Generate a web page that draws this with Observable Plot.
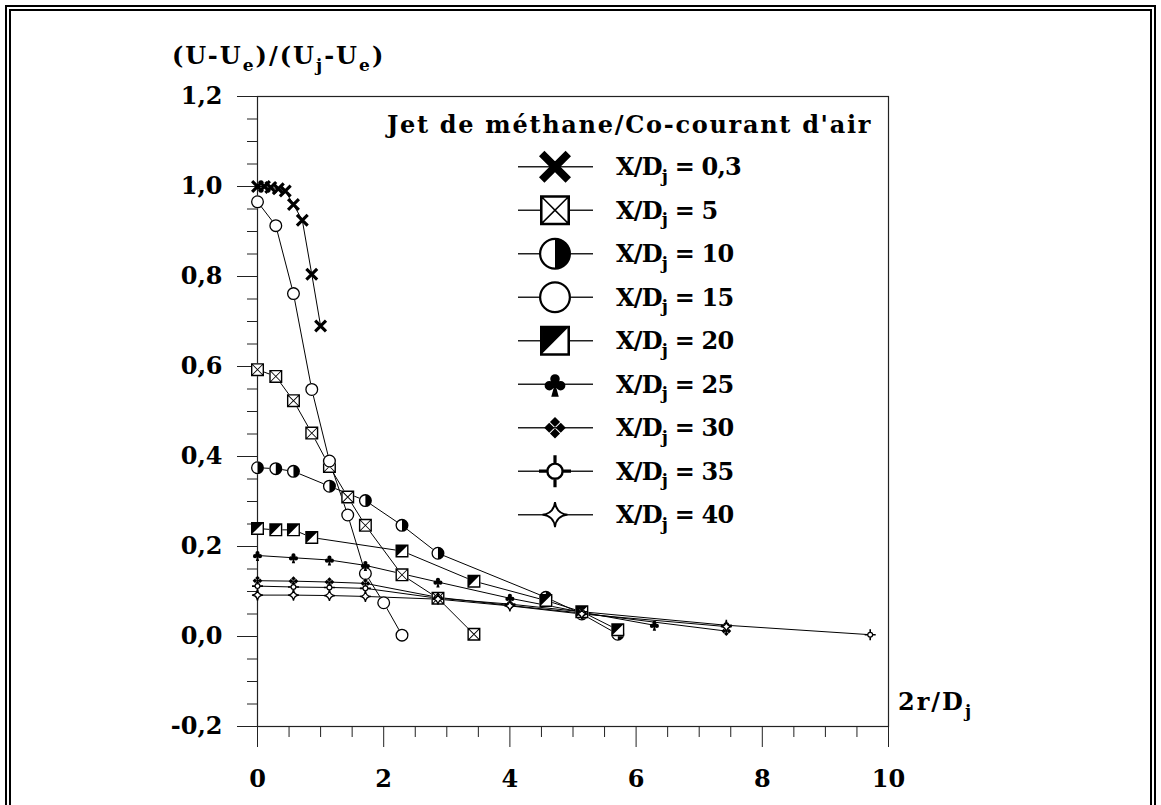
<!DOCTYPE html>
<html><head><meta charset="utf-8">
<script src="https://cdn.jsdelivr.net/npm/d3@7"></script>
<script src="https://cdn.jsdelivr.net/npm/@observablehq/plot@0.6"></script>
<style>
html,body{margin:0;padding:0;background:#fff;overflow:hidden}
#wrap{position:relative;width:1161px;height:805px;overflow:hidden;font-family:"DejaVu Serif",serif;font-weight:bold;color:#000}
#frame{position:absolute;left:5px;top:5px;width:1151px;height:830px;box-sizing:border-box;border:6px double #000}
#plot{position:absolute;left:0;top:0}
#legsvg{position:absolute;left:0;top:0;pointer-events:none}
.lbl{position:absolute;font-size:24px;line-height:1;white-space:nowrap}
.lbl sub{font-size:17px;vertical-align:baseline;position:relative;top:0.4em}
</style></head><body><div id="wrap"><div id="frame"></div><div id="plot"></div></div>
<script>
// ---------------- data ----------------
const seriesNames = ["0,3", "5", "10", "15", "20", "25", "30", "35", "40"];

const x_03 = [0, 0.11, 0.21, 0.33, 0.44, 0.57, 0.71, 0.86, 1.0];
const y_03 = [1.0, 1.0, 0.998, 0.995, 0.99, 0.96, 0.925, 0.805, 0.69];

const x_05 = [0, 0.29, 0.57, 0.86, 1.14, 1.43, 1.71, 2.29, 2.86, 3.43];
const y_05 = [0.593, 0.578, 0.524, 0.452, 0.378, 0.31, 0.247, 0.137, 0.085, 0.005];

const x_10 = [0, 0.29, 0.57, 1.14, 1.71, 2.29, 2.86, 4.57, 5.14, 5.71];
const y_10 = [0.375, 0.373, 0.367, 0.334, 0.302, 0.247, 0.185, 0.087, 0.05, 0.005];

const x_15 = [0, 0.29, 0.57, 0.86, 1.14, 1.43, 1.71, 2.0, 2.29];
const y_15 = [0.966, 0.913, 0.762, 0.549, 0.39, 0.27, 0.14, 0.075, 0.003];

const x_20 = [0, 0.29, 0.57, 0.86, 2.29, 3.43, 4.57, 5.14, 5.71];
const y_20 = [0.24, 0.237, 0.237, 0.22, 0.19, 0.123, 0.08, 0.055, 0.015];

const x_25 = [0, 0.57, 1.14, 1.71, 2.86, 4.0, 5.14, 6.29];
const y_25 = [0.18, 0.175, 0.17, 0.158, 0.121, 0.085, 0.054, 0.025];

const x_30 = [0, 0.57, 1.14, 1.71, 2.86, 4.0, 5.14, 7.43];
const y_30 = [0.124, 0.123, 0.121, 0.118, 0.087, 0.069, 0.052, 0.012];

const x_35 = [0, 0.57, 1.14, 1.71, 2.86, 4.0, 5.14, 7.43, 9.71];
const y_35 = [0.112, 0.11, 0.109, 0.107, 0.085, 0.072, 0.055, 0.025, 0.004];

const x_40 = [0, 0.57, 1.14, 1.71, 2.86, 4.0, 5.14, 7.43];
const y_40 = [0.092, 0.092, 0.091, 0.089, 0.083, 0.068, 0.05, 0.022];

const xTicks = [0, 2, 4, 6, 8, 10];
const xMinorTicks = [0.5, 1, 1.5, 2.5, 3, 3.5, 4.5, 5, 5.5, 6.5, 7, 7.5, 8.5, 9, 9.5];
const yTicks = [-0.2, 0, 0.2, 0.4, 0.6, 0.8, 1.0, 1.2];
const yMinorTicks = [-0.15, -0.1, -0.05, 0.05, 0.1, 0.15, 0.25, 0.3, 0.35, 0.45, 0.5, 0.55, 0.65, 0.7, 0.75, 0.85, 0.9, 0.95, 1.05, 1.1, 1.15];
const yTickLabels = ["-0,2", "0,0", "0,2", "0,4", "0,6", "0,8", "1,0", "1,2"];
const xTickLabels = ["0", "2", "4", "6", "8", "10"];

const legendTitle = "Jet de méthane/Co-courant d'air";
const yTitle = ["(U-U", "e", ")/(U", "j", "-U", "e", ")"];
const xTitle = ["2r/D", "j"];

// ---------------- symbols ----------------
const TAU = Math.PI * 2;
function poly(p, pts) { p.moveTo(pts[0][0], pts[0][1]); for (let i = 1; i < pts.length; i++) p.lineTo(pts[i][0], pts[i][1]); p.closePath(); }
function rot(pts, a) { const c = Math.cos(a), s = Math.sin(a); return pts.map(([x, y]) => [x * c - y * s, x * s + y * c]); }
function rrect(p, hl, ht, a) { poly(p, rot([[-hl, -ht], [hl, -ht], [hl, ht], [-hl, ht]], a)); }
function sq(p, a, rev) { poly(p, rev ? [[-a, -a], [-a, a], [a, a], [a, -a]] : [[-a, -a], [a, -a], [a, a], [-a, a]]); }
function circ(p, cx, cy, r, rev) { p.moveTo(cx + r, cy); p.arc(cx, cy, r, 0, TAU, !!rev); p.closePath(); }

const shapes = {
  cross(p, R) { const ht = 0.24 * R, hl = 1.414 * R - ht; rrect(p, hl, ht, Math.PI / 4); rrect(p, hl, ht, -Math.PI / 4); },
  boxX(p, R) { const w = Math.max(0.17 * R, 1.4); sq(p, R); sq(p, R - w, true); const ht = Math.max(0.05 * R, 0.45), hl = (R - w) * 1.414; rrect(p, hl, ht, Math.PI / 4); rrect(p, hl, ht, -Math.PI / 4); },
  sqBg(p, R) { sq(p, R); },
  halfC(p, R) { const w = Math.max(0.14 * R, 1.3), a = R - w; circ(p, 0, 0, R); circ(p, 0, 0, a, true); p.moveTo(0, -a); p.arc(0, 0, a, -Math.PI / 2, Math.PI / 2, false); p.closePath(); },
  ring(p, R) { const w = Math.max(0.14 * R, 1.3); circ(p, 0, 0, R); circ(p, 0, 0, R - w, true); },
  cBg(p, R) { circ(p, 0, 0, R); },
  halfSq(p, R) { const w = Math.max(0.17 * R, 1.4), a = R - w; sq(p, R); sq(p, a, true); poly(p, [[-a, -a], [a, -a], [-a, a]]); },
  club(p, R) { circ(p, 0, -0.42 * R, 0.38 * R); circ(p, -0.45 * R, 0.12 * R, 0.38 * R); circ(p, 0.45 * R, 0.12 * R, 0.38 * R); circ(p, 0, 0, 0.3 * R); poly(p, [[0, -0.1 * R], [0.3 * R, R], [-0.3 * R, R]]); },
  dia4(p, R) { const d = 0.5 * R, h = 0.44 * R; for (const [dx, dy] of [[0, -d], [d, 0], [0, d], [-d, 0]]) poly(p, [[dx, dy - h], [dx + h, dy], [dx, dy + h], [dx - h, dy]]); },
  target(p, R) { const rc = 0.55 * R, w = Math.max(0.15 * R, 1.2), ht = Math.max(0.1 * R, 0.8); circ(p, 0, 0, rc); circ(p, 0, 0, rc - w, true); for (let k = 0; k < 4; k++) poly(p, rot([[rc - w * 0.5, -ht], [R, -ht], [R, ht], [rc - w * 0.5, ht]], k * Math.PI / 2)); },
  targetBg(p, R) { circ(p, 0, 0, 0.55 * R); },
  star(p, R) { const c = 0.1 * R; p.moveTo(0, -R); p.quadraticCurveTo(c, -c, R, 0); p.quadraticCurveTo(c, c, 0, R); p.quadraticCurveTo(-c, c, -R, 0); p.quadraticCurveTo(-c, -c, 0, -R); p.closePath(); }
};
const plotSym = (f) => ({ draw(ctx, size) { f(ctx, Math.sqrt(size / Math.PI)); } });

// series style table
const specs = [
  { name: seriesNames[0], xs: x_03, ys: y_03, fg: "cross", bg: null, r: 6.5, lr: 16 },
  { name: seriesNames[1], xs: x_05, ys: y_05, fg: "boxX", bg: "sqBg", r: 6.5, lr: 15 },
  { name: seriesNames[2], xs: x_10, ys: y_10, fg: "halfC", bg: "cBg", r: 6.5, lr: 16 },
  { name: seriesNames[3], xs: x_15, ys: y_15, fg: "ring", bg: "cBg", r: 6.5, lr: 16 },
  { name: seriesNames[4], xs: x_20, ys: y_20, fg: "halfSq", bg: "sqBg", r: 6.5, lr: 15 },
  { name: seriesNames[5], xs: x_25, ys: y_25, fg: "club", bg: null, r: 5.5, lr: 12.5 },
  { name: seriesNames[6], xs: x_30, ys: y_30, fg: "dia4", bg: null, r: 5.2, lr: 11.5 },
  { name: seriesNames[7], xs: x_35, ys: y_35, fg: "target", bg: "targetBg", r: 5.5, lr: 16 },
  { name: seriesNames[8], xs: x_40, ys: y_40, fg: "star", bg: null, r: 5.5, lr: 12.5, stroke: true }
];

const rows = specs.flatMap(s => s.xs.map((x, i) => ({ series: s.name, x, y: s.ys[i] })));

const dotMarks = [];
for (const s of specs) {
  const d = rows.filter(r => r.series === s.name);
  if (s.bg) dotMarks.push(Plot.dot(d, { x: "x", y: "y", r: s.r, symbol: plotSym(shapes[s.bg]), fill: "white", stroke: "none" }));
  if (s.stroke) dotMarks.push(Plot.dot(d, { x: "x", y: "y", r: s.r, symbol: plotSym(shapes[s.fg]), fill: "white", stroke: "black", strokeWidth: 1.3 }));
  else dotMarks.push(Plot.dot(d, { x: "x", y: "y", r: s.r, symbol: plotSym(shapes[s.fg]), fill: "black", stroke: "none" }));
}

const chart = Plot.plot({
  width: 1161, height: 805,
  marginLeft: 257, marginRight: 273, marginTop: 96, marginBottom: 79,
  x: { domain: [0, 10] },
  y: { domain: [-0.2, 1.2] },
  style: { fontFamily: '"DejaVu Serif", serif', fontSize: "24px", fontWeight: "bold", background: "transparent", overflow: "visible", color: "#000" },
  marks: [
    Plot.frame({ stroke: "#222", strokeWidth: 1.2 }),
    Plot.axisY(yMinorTicks, { tickSize: 10, tickFormat: () => "", label: null, stroke: "#222" }),
    Plot.axisY(yTicks, { tickSize: 20, tickPadding: 15, tickFormat: (d) => yTickLabels[yTicks.indexOf(d)], label: null, stroke: "#222" }),
    Plot.axisX(xMinorTicks, { tickSize: 11, tickFormat: () => "", label: null, stroke: "#222" }),
    Plot.axisX(xTicks, { tickSize: 21, tickPadding: 22, tickFormat: (d) => xTickLabels[xTicks.indexOf(d)], label: null, stroke: "#222" }),
    Plot.line(rows, { x: "x", y: "y", z: "series", stroke: "#000", strokeWidth: 1 }),
    ...dotMarks
  ]
});
document.getElementById("plot").appendChild(chart);

// ---------------- titles & legend (HTML / d3 overlay) ----------------
const wrap = document.getElementById("wrap");
function label(parts, left, top, spacing) {
  const div = document.createElement("div");
  div.className = "lbl";
  div.style.left = left + "px"; div.style.top = top + "px";
  if (spacing != null) div.style.letterSpacing = spacing + "px";
  parts.forEach((t, i) => {
    if (i % 2 === 1) { const s = document.createElement("sub"); s.textContent = t; div.appendChild(s); }
    else div.appendChild(document.createTextNode(t));
  });
  wrap.appendChild(div);
  return div;
}
label(yTitle, 172, 44, 2);
label(xTitle, 898, 690, 2);
label([legendTitle], 387, 113, 1.7);

const rowY0 = 166.7, rowDy = 43.5;
const leg = d3.select(wrap).append("svg").attr("id", "legsvg").attr("width", 1161).attr("height", 805);
specs.forEach((s, i) => {
  const cy = rowY0 + i * rowDy;
  leg.append("line").attr("x1", 518).attr("x2", 593).attr("y1", cy).attr("y2", cy).attr("stroke", "#222").attr("stroke-width", 1.6);
  const g = leg.append("g").attr("transform", `translate(555,${cy})`);
  if (s.bg) { const p = d3.path(); shapes[s.bg](p, s.lr); g.append("path").attr("d", p.toString()).attr("fill", "white"); }
  const p = d3.path(); shapes[s.fg](p, s.lr);
  if (s.stroke) g.append("path").attr("d", p.toString()).attr("fill", "white").attr("stroke", "black").attr("stroke-width", 1.8);
  else g.append("path").attr("d", p.toString()).attr("fill", "black");
  label(["X/D", "j", " = " + s.name], 616, cy - 11.5, -0.8);
});
</script></body></html>
